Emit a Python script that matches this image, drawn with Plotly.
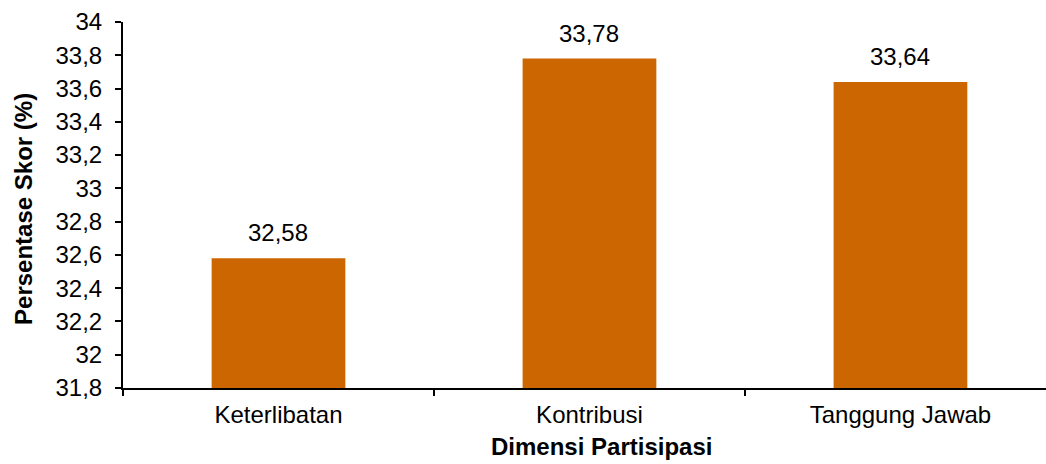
import plotly.graph_objects as go

categories = ["Keterlibatan", "Kontribusi", "Tanggung Jawab"]
values = [32.58, 33.78, 33.64]
value_labels = ["32,58", "33,78", "33,64"]
y_ticks = [31.8, 32.0, 32.2, 32.4, 32.6, 32.8, 33.0, 33.2, 33.4, 33.6, 33.8, 34.0]
y_tick_labels = ["31,8", "32", "32,2", "32,4", "32,6", "32,8", "33", "33,2", "33,4", "33,6", "33,8", "34"]
x_title = "Dimensi Partisipasi"
y_title = "Persentase Skor (%)"

FONT = "Liberation Sans, Arial, sans-serif"
FS = 24

fig = go.Figure()
fig.add_trace(go.Bar(
    x=categories, y=values,
    marker=dict(color="#CC6600", line=dict(width=0)),
    width=0.43,
))
for c, v, t in zip(categories, values, value_labels):
    fig.add_annotation(x=c, y=v, text=t, showarrow=False, yanchor="bottom",
                       yshift=10, font=dict(family=FONT, size=FS, color="#000000"))

fig.add_annotation(xref="paper", yref="paper", x=0.518, y=-0.161, text="<b>" + x_title + "</b>",
                   showarrow=False, xanchor="center", yanchor="middle",
                   font=dict(family=FONT, size=FS, color="#000000"))
fig.add_annotation(xref="paper", yref="paper", x=-0.108, y=0.49, text="<b>" + y_title + "</b>",
                   showarrow=False, xanchor="center", yanchor="middle", textangle=-90,
                   font=dict(family=FONT, size=FS, color="#000000"))

fig.update_layout(
    width=1046, height=464,
    margin=dict(l=123, r=0, t=22, b=76),
    paper_bgcolor="white", plot_bgcolor="white",
    showlegend=False,
    separators=",.",
    font=dict(family=FONT, size=FS, color="#000000"),
    xaxis=dict(
        range=[-0.5, 2.468],
        showline=True, linecolor="#000000", linewidth=2,
        ticks="outside", tickson="boundaries", ticklen=6, tickwidth=2, tickcolor="#000000",
        showgrid=False, zeroline=False,
        tickfont=dict(family=FONT, size=FS),
        ticklabelstandoff=4,
    ),
    yaxis=dict(
        range=[31.8, 34.0],
        tickvals=y_ticks, ticktext=y_tick_labels,
        showline=True, linecolor="#000000", linewidth=2,
        ticks="outside", ticklen=6, tickwidth=2, tickcolor="#000000",
        showgrid=False, zeroline=False,
        tickfont=dict(family=FONT, size=FS),
        ticklabelstandoff=8,
    ),
)

fig.write_html("out.html")
